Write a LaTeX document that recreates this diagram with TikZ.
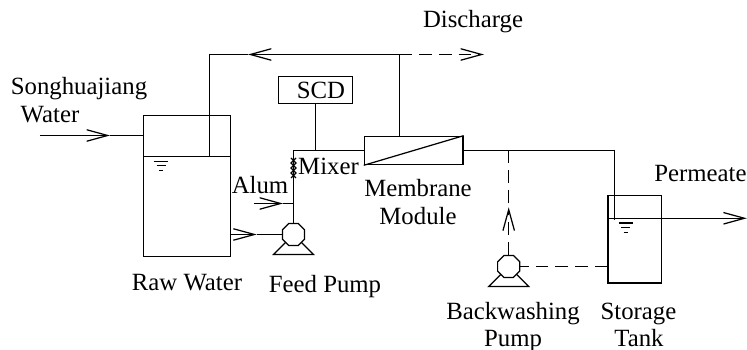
\documentclass[tikz,border=0pt]{standalone}
\usepackage{fontspec}
\setmainfont{Liberation Serif}
\usetikzlibrary{arrows.meta}
\usetikzlibrary{shapes.geometric}
\tikzset{vessel/.style={draw,rectangle,inner sep=0pt}}
\tikzset{pumphead/.style={draw,regular polygon,regular polygon sides=8,minimum size=0.24cm,inner sep=0pt}}
\tikzset{lab/.style={anchor=base,inner sep=0pt,font=\fontsize{7.05}{8.4}\selectfont}}
\tikzset{flow/.style={-{Straight Barb[length=0.21cm,width=0.115cm,line width=0.35pt]}}}
\tikzset{wash/.style={dash pattern=on 3.6pt off 2pt}}

\begin{document}
\begin{tikzpicture}[line width=0.35pt]
\useasboundingbox (0,0) rectangle (7.47,3.5);

\node[vessel,minimum width=0.87cm,minimum height=1.403cm] (raw) at (1.87,1.64) {};
\node[vessel,minimum width=0.537cm,minimum height=0.873cm] (store) at (6.349,1.107) {};
\node[vessel,minimum width=0.987cm,minimum height=0.284cm] (mod) at (4.137,1.995) {};
\node[vessel,minimum width=0.74cm,minimum height=0.273cm] (scd) at (3.153,2.60) {};
\node[pumphead] (feed) at (2.935,1.155) {};
\node[pumphead] (back) at (5.087,0.835) {};

\node[lab] (songhua) at (0.79,2.55) {Songhuajiang};
\node[lab] (water) at (0.50,2.27) {Water};
\node[lab] (rawlab) at (1.87,0.59) {Raw Water};
\node[lab] (feedlab) at (3.25,0.57) {Feed Pump};
\node[lab] (alum) at (2.60,1.56) {Alum};
\node[lab] (mixer) at (3.285,1.75) {Mixer};
\node[lab] (scdlab) at (3.21,2.51) {SCD};
\node[lab] (dischg) at (4.73,3.22) {Discharge};
\node[lab] (memb) at (4.18,1.53) {Membrane};
\node[lab] (modlab) at (4.18,1.25) {Module};
\node[lab] (perm) at (7.005,1.68) {Permeate};
\node[lab] (backlab) at (5.13,0.30) {Backwashing};
\node[lab] (pumplab) at (5.13,0.03) {Pump};
\node[lab] (storlab) at (6.385,0.30) {Storage};
\node[lab] (tank) at (6.39,0.03) {Tank};

\coordinate (rawlvl) at (1.435,1.935);
\coordinate (over) at (2.095,1.935);
\coordinate (topL) at (2.095,2.955);
\coordinate (topR) at (3.997,2.955);
\coordinate (topTip) at (2.48,2.955);
\coordinate (disTip) at (4.84,2.955);
\coordinate (inlet) at (0.40,2.145);
\coordinate (inTip) at (1.10,2.145);
\coordinate (alumS) at (2.54,1.465);
\coordinate (alumTip) at (2.83,1.465);
\coordinate (outTip) at (2.567,1.155);
\coordinate (tee) at (5.087,1.995);
\coordinate (washTip) at (5.087,1.427);
\coordinate (drop) at (6.143,1.30);
\coordinate (storlvl) at (6.08,1.317);
\coordinate (permTip) at (7.468,1.317);

\draw (rawlvl) -- (raw.east |- rawlvl);
\draw (over) -- (topL) -- (topTip);
\draw[flow] (topR) -- (topTip);
\draw (topR) -- (topR |- mod.north);
\draw[flow,wash] (topR) -- (disTip);

\draw[flow] (inlet) -- (inTip);
\draw (inTip) -- (raw.west |- inTip);
\draw[flow] (raw.east |- feed) -- (outTip);
\draw (outTip) -- (feed.west);
\draw[flow] (alumS) -- (alumTip);
\draw (alumTip) -- (feed |- alumTip);

\draw (feed.north) -- (feed |- mod.west) -- (mod.west);
\draw (scd.south) -- (scd.south |- mod.west);
\draw (mod.south west) -- (mod.north east);
\draw (mod.east) -- (drop |- mod.east) -- (drop);

\draw (storlvl) -- (store.east |- storlvl);
\draw[flow] (store.east |- storlvl) -- (permTip);

\draw[flow,wash] (back.north) -- (washTip);
\draw[wash] (tee) -- (washTip);
\draw[wash] (store.west |- back) -- (back.east);

% mixer
\draw (2.91,1.92) -- (2.96,1.87) -- (2.91,1.82) -- (2.96,1.77) -- (2.91,1.72);
\draw (2.96,1.92) -- (2.91,1.87) -- (2.96,1.82) -- (2.91,1.77) -- (2.96,1.72);

% pump feet
\foreach \p in {feed,back} {
  \draw (\p.center) ++(-0.08,-0.08) -- ++(-0.12,-0.12) -- ++(0.40,0) -- ++(-0.12,0.12);
}

% water level marks
\foreach \x/\y in {1.61/1.887,6.257/1.27} {
  \draw (\x-0.07,\y) -- (\x+0.07,\y);
  \draw (\x-0.045,\y-0.045) -- (\x+0.045,\y-0.045);
  \draw (\x-0.02,\y-0.093) -- (\x+0.02,\y-0.093);
}
\end{tikzpicture}
\end{document}
